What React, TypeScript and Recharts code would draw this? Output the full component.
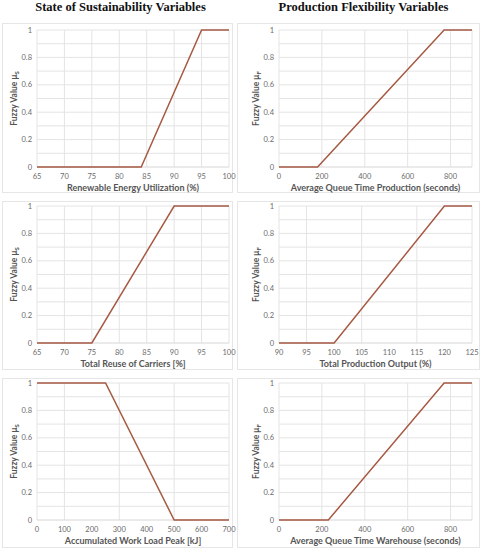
import React from "react"
import { LineChart, Line, XAxis, YAxis, CartesianGrid, ReferenceLine } from "recharts"

// membership functions
const renewableX = [65, 84, 95, 100]
const renewableY = [0, 0, 1, 1]
const queueProdX = [0, 180, 770, 900]
const queueProdY = [0, 0, 1, 1]
const reuseX = [65, 75, 90, 100]
const reuseY = [0, 0, 1, 1]
const outputX = [90, 100, 120, 125]
const outputY = [0, 0, 1, 1]
const workLoadX = [0, 250, 500, 700]
const workLoadY = [1, 1, 0, 0]
const queueWhX = [0, 230, 770, 900]
const queueWhY = [0, 0, 1, 1]

const percentTicks = [65, 70, 75, 80, 85, 90, 95, 100]
const outputTicks = [90, 95, 100, 105, 110, 115, 120, 125]
const queueTicks = [0, 200, 400, 600, 800]
const workLoadTicks = [0, 100, 200, 300, 400, 500, 600, 700]
const yTicks = [0, 0.2, 0.4, 0.6, 0.8, 1]
const yGrid = [0.1, 0.2, 0.3, 0.4, 0.5, 0.6, 0.7, 0.8, 0.9, 1]

const FONT = "Lato, 'Open Sans', sans-serif"
const LINE = "#a65a43"

interface PanelProps {
  xs: number[]
  ys: number[]
  domain: [number, number]
  ticks: number[]
  title: string
  sub: string
  left: number
  top: number
  right: boolean
}

function Panel({ xs, ys, domain, ticks, title, sub, left, top, right }: PanelProps) {
  const data = xs.map((x, i) => ({ x, y: ys[i] }))
  const yWidth = right ? 38 : 37
  return (
    <div style={{ position: "absolute", left, top }}>
      <LineChart
        width={241}
        height={178}
        data={data}
        margin={{ top: 8, right: right ? 10 : 12, bottom: 5, left: 0 }}
      >
        <CartesianGrid horizontal={false} stroke="#e4e4e4" />
        {yGrid.map((v) => (
          <ReferenceLine key={v} y={v} stroke="#e4e4e4" />
        ))}
        <ReferenceLine y={0} stroke="#d6d6d6" />
        <XAxis
          dataKey="x"
          type="number"
          domain={domain}
          ticks={ticks}
          allowDataOverflow
          axisLine={false}
          tickLine={false}
          tickSize={4}
          tickMargin={3}
          height={28}
          tick={{ fontSize: 7.5, fill: "#6b6b6b", fontFamily: FONT }}
          label={{
            content: (p: any) => {
              const vb = p.viewBox
              return (
                <text
                  x={vb.x + vb.width / 2}
                  y={vb.y + 20}
                  textAnchor="middle"
                  dominantBaseline="central"
                  fontSize={9}
                  fontWeight={700}
                  fill="#555"
                  fontFamily={FONT}
                >
                  {title}
                </text>
              )
            },
          }}
        />
        <YAxis
          type="number"
          domain={[0, 1]}
          ticks={yTicks}
          width={yWidth}
          axisLine={false}
          tickLine={false}
          tickSize={0}
          tickMargin={5}
          tick={{ fontSize: 7.5, fill: "#6b6b6b", fontFamily: FONT }}
          label={{
            content: (p: any) => {
              const vb = p.viewBox
              const cx = vb.x + (right ? 15 : 14)
              const cy = vb.y + vb.height / 2
              return (
                <text
                  x={cx}
                  y={cy}
                  transform={`rotate(-90 ${cx} ${cy})`}
                  textAnchor="middle"
                  dominantBaseline="central"
                  fontSize={8.5}
                  fontWeight={700}
                  fill="#555"
                  fontFamily={FONT}
                >
                  Fuzzy Value μ
                  <tspan fontSize={6} dy={2}>
                    {sub}
                  </tspan>
                </text>
              )
            },
          }}
        />
        <Line
          type="linear"
          dataKey="y"
          stroke={LINE}
          strokeWidth={1.5}
          dot={false}
          isAnimationActive={false}
        />
      </LineChart>
    </div>
  )
}

const frame = (left: number, top: number, width: number, height: number) => (
  <div
    style={{
      position: "absolute",
      left,
      top,
      width,
      height,
      border: "1px solid #e6e6e6",
      boxSizing: "border-box",
    }}
  />
)

export default function App() {
  const titleStyle: React.CSSProperties = {
    position: "absolute",
    top: 0,
    width: 241,
    textAlign: "center",
    fontFamily: "'Liberation Serif', 'Times New Roman', serif",
    fontWeight: 700,
    fontSize: 12.5,
    lineHeight: "15px",
    color: "#111",
  }
  return (
    <div style={{ position: "absolute", left: 0, top: 0, width: 482, height: 550, background: "#fff" }}>
      <div style={{ ...titleStyle, left: 0 }}>State of Sustainability Variables</div>
      <div style={{ ...titleStyle, left: 243 }}>Production Flexibility Variables</div>

      {frame(2, 23, 231, 170)}
      {frame(237, 23, 243, 170)}
      {frame(2, 201, 231, 169)}
      {frame(237, 201, 243, 169)}
      {frame(2, 378, 231, 170)}
      {frame(237, 378, 243, 170)}

      <Panel xs={renewableX} ys={renewableY} domain={[65, 100]} ticks={percentTicks}
        title="Renewable Energy Utilization (%)" sub="S" left={0} top={22} right={false} />
      <Panel xs={queueProdX} ys={queueProdY} domain={[0, 900]} ticks={queueTicks}
        title="Average Queue Time Production (seconds)" sub="F" left={241} top={22} right />
      <Panel xs={reuseX} ys={reuseY} domain={[65, 100]} ticks={percentTicks}
        title="Total Reuse of Carriers [%]" sub="S" left={0} top={198} right={false} />
      <Panel xs={outputX} ys={outputY} domain={[90, 125]} ticks={outputTicks}
        title="Total Production Output (%)" sub="F" left={241} top={198} right />
      <Panel xs={workLoadX} ys={workLoadY} domain={[0, 700]} ticks={workLoadTicks}
        title="Accumulated Work Load Peak [kJ]" sub="S" left={0} top={375} right={false} />
      <Panel xs={queueWhX} ys={queueWhY} domain={[0, 900]} ticks={queueTicks}
        title="Average Queue Time Warehouse (seconds)" sub="F" left={241} top={375} right />
    </div>
  )
}
